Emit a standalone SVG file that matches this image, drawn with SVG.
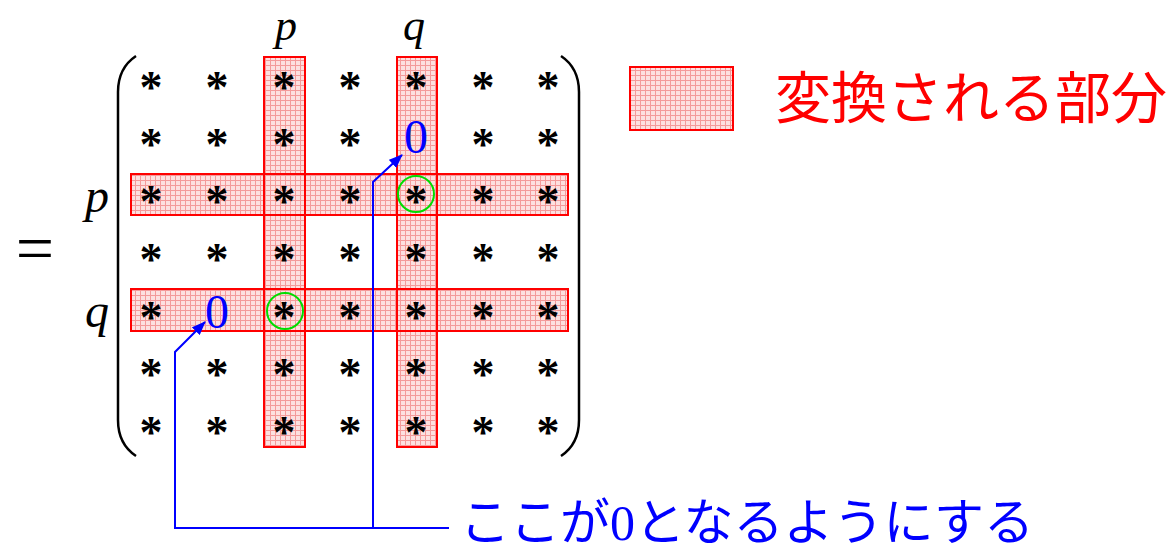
<svg xmlns="http://www.w3.org/2000/svg" width="1173" height="553" viewBox="0 0 1173 553">
<defs>
<pattern id="hatch" width="5" height="5" patternUnits="userSpaceOnUse">
<rect width="5" height="5" fill="#fde0e0"/>
<path d="M0 0.5H5M0.5 0V5" stroke="#f49a9a" stroke-width="1"/>
</pattern>
<marker id="ah" viewBox="0 0 14 11" refX="13" refY="5.5" markerWidth="14" markerHeight="11" orient="auto" markerUnits="userSpaceOnUse">
<path d="M0 0L14 5.5L0 11z" fill="#0000ff"/>
</marker>
<style>
.band{fill:url(#hatch);stroke:none}
.bandline{fill:none;stroke:#ff0000;stroke-width:2}
.ast{font-family:'Liberation Serif','DejaVu Serif','Noto Serif',serif;font-size:46px;font-weight:bold;fill:#000;text-anchor:middle}
.zero{font-family:'Liberation Serif','DejaVu Serif','Noto Serif',serif;font-size:48px;fill:#0000ff;text-anchor:middle}
.var{font-family:'Liberation Serif','DejaVu Serif','Noto Serif',serif;font-style:italic;font-size:48px;fill:#000;text-anchor:middle}
.top{font-size:44px}
.circ{fill:none;stroke:#00dd00;stroke-width:2}
.paren{fill:none;stroke:#000;stroke-width:2.5}
.conn{fill:none;stroke:#0000ff;stroke-width:2}
.jp{font-family:'Noto Sans CJK JP',sans-serif}
.num{font-family:'Liberation Serif','DejaVu Serif','Noto Serif',serif}
.eq{font-family:'Liberation Serif','DejaVu Serif','Noto Serif',serif;font-size:68px;text-anchor:middle}
</style>
</defs>
<g id="bands">
<rect class="band" x="264" y="57" width="41" height="390"/>
<rect class="band" x="397" y="57" width="40" height="390"/>
<rect class="band" x="131" y="174" width="437" height="41"/>
<rect class="band" x="131" y="289" width="437" height="42"/>
<rect class="bandline" x="264" y="57" width="41" height="390"/>
<rect class="bandline" x="397" y="57" width="40" height="390"/>
<rect class="bandline" x="131" y="174" width="437" height="41"/>
<rect class="bandline" x="131" y="289" width="437" height="42"/>
</g>
<g id="parens">
<path class="paren" d="M136 56Q118 68 118 92V420Q118 444 136 456"/>
<path class="paren" d="M561 56Q579 68 579 92V420Q579 444 561 456"/>
</g>
<g id="equals"><text class="eq" x="35" y="271">=</text></g>
<g id="labels">
<text class="var top" x="286" y="40">p</text>
<text class="var top" x="414" y="40">q</text>
<text class="var" x="97" y="212">p</text>
<text class="var" x="97" y="327">q</text>
</g>
<g id="matrix">
<text class="ast" x="151" y="103">*</text><text class="ast" x="217" y="103">*</text><text class="ast" x="284" y="103">*</text><text class="ast" x="350" y="103">*</text><text class="ast" x="416" y="103">*</text><text class="ast" x="483" y="103">*</text><text class="ast" x="548" y="103">*</text>
<text class="ast" x="151" y="160">*</text><text class="ast" x="217" y="160">*</text><text class="ast" x="284" y="160">*</text><text class="ast" x="350" y="160">*</text><text class="zero" x="416" y="153">0</text><text class="ast" x="483" y="160">*</text><text class="ast" x="548" y="160">*</text>
<text class="ast" x="151" y="217">*</text><text class="ast" x="217" y="217">*</text><text class="ast" x="284" y="217">*</text><text class="ast" x="350" y="217">*</text><text class="ast" x="416" y="217">*</text><text class="ast" x="483" y="217">*</text><text class="ast" x="548" y="217">*</text>
<text class="ast" x="151" y="275">*</text><text class="ast" x="217" y="275">*</text><text class="ast" x="284" y="275">*</text><text class="ast" x="350" y="275">*</text><text class="ast" x="416" y="275">*</text><text class="ast" x="483" y="275">*</text><text class="ast" x="548" y="275">*</text>
<text class="ast" x="151" y="333">*</text><text class="zero" x="217" y="328">0</text><text class="ast" x="284" y="333">*</text><text class="ast" x="350" y="333">*</text><text class="ast" x="416" y="333">*</text><text class="ast" x="483" y="333">*</text><text class="ast" x="548" y="333">*</text>
<text class="ast" x="151" y="390">*</text><text class="ast" x="217" y="390">*</text><text class="ast" x="284" y="390">*</text><text class="ast" x="350" y="390">*</text><text class="ast" x="416" y="390">*</text><text class="ast" x="483" y="390">*</text><text class="ast" x="548" y="390">*</text>
<text class="ast" x="151" y="448">*</text><text class="ast" x="217" y="448">*</text><text class="ast" x="284" y="448">*</text><text class="ast" x="350" y="448">*</text><text class="ast" x="416" y="448">*</text><text class="ast" x="483" y="448">*</text><text class="ast" x="548" y="448">*</text>
</g>
<g id="circles">
<circle class="circ" cx="416" cy="194" r="18"/>
<circle class="circ" cx="285" cy="311" r="18"/>
</g>
<g id="connectors">
<path class="conn" d="M449 528H175V352L205 322" marker-end="url(#ah)"/>
<path class="conn" d="M373 528V182L402 155" marker-end="url(#ah)"/>
</g>
<g id="note">
<text class="jp" x="460" y="540" font-size="50" fill="#0000ff">ここが<tspan class="num">0</tspan>となるようにする</text>
</g>
<g id="legend">
<rect x="630" y="67" width="103" height="63" fill="url(#hatch)" stroke="#ff0000" stroke-width="2"/>
<text class="jp" x="775" y="118" font-size="56" fill="#ff0000">変換される部分</text>
</g>
</svg>
